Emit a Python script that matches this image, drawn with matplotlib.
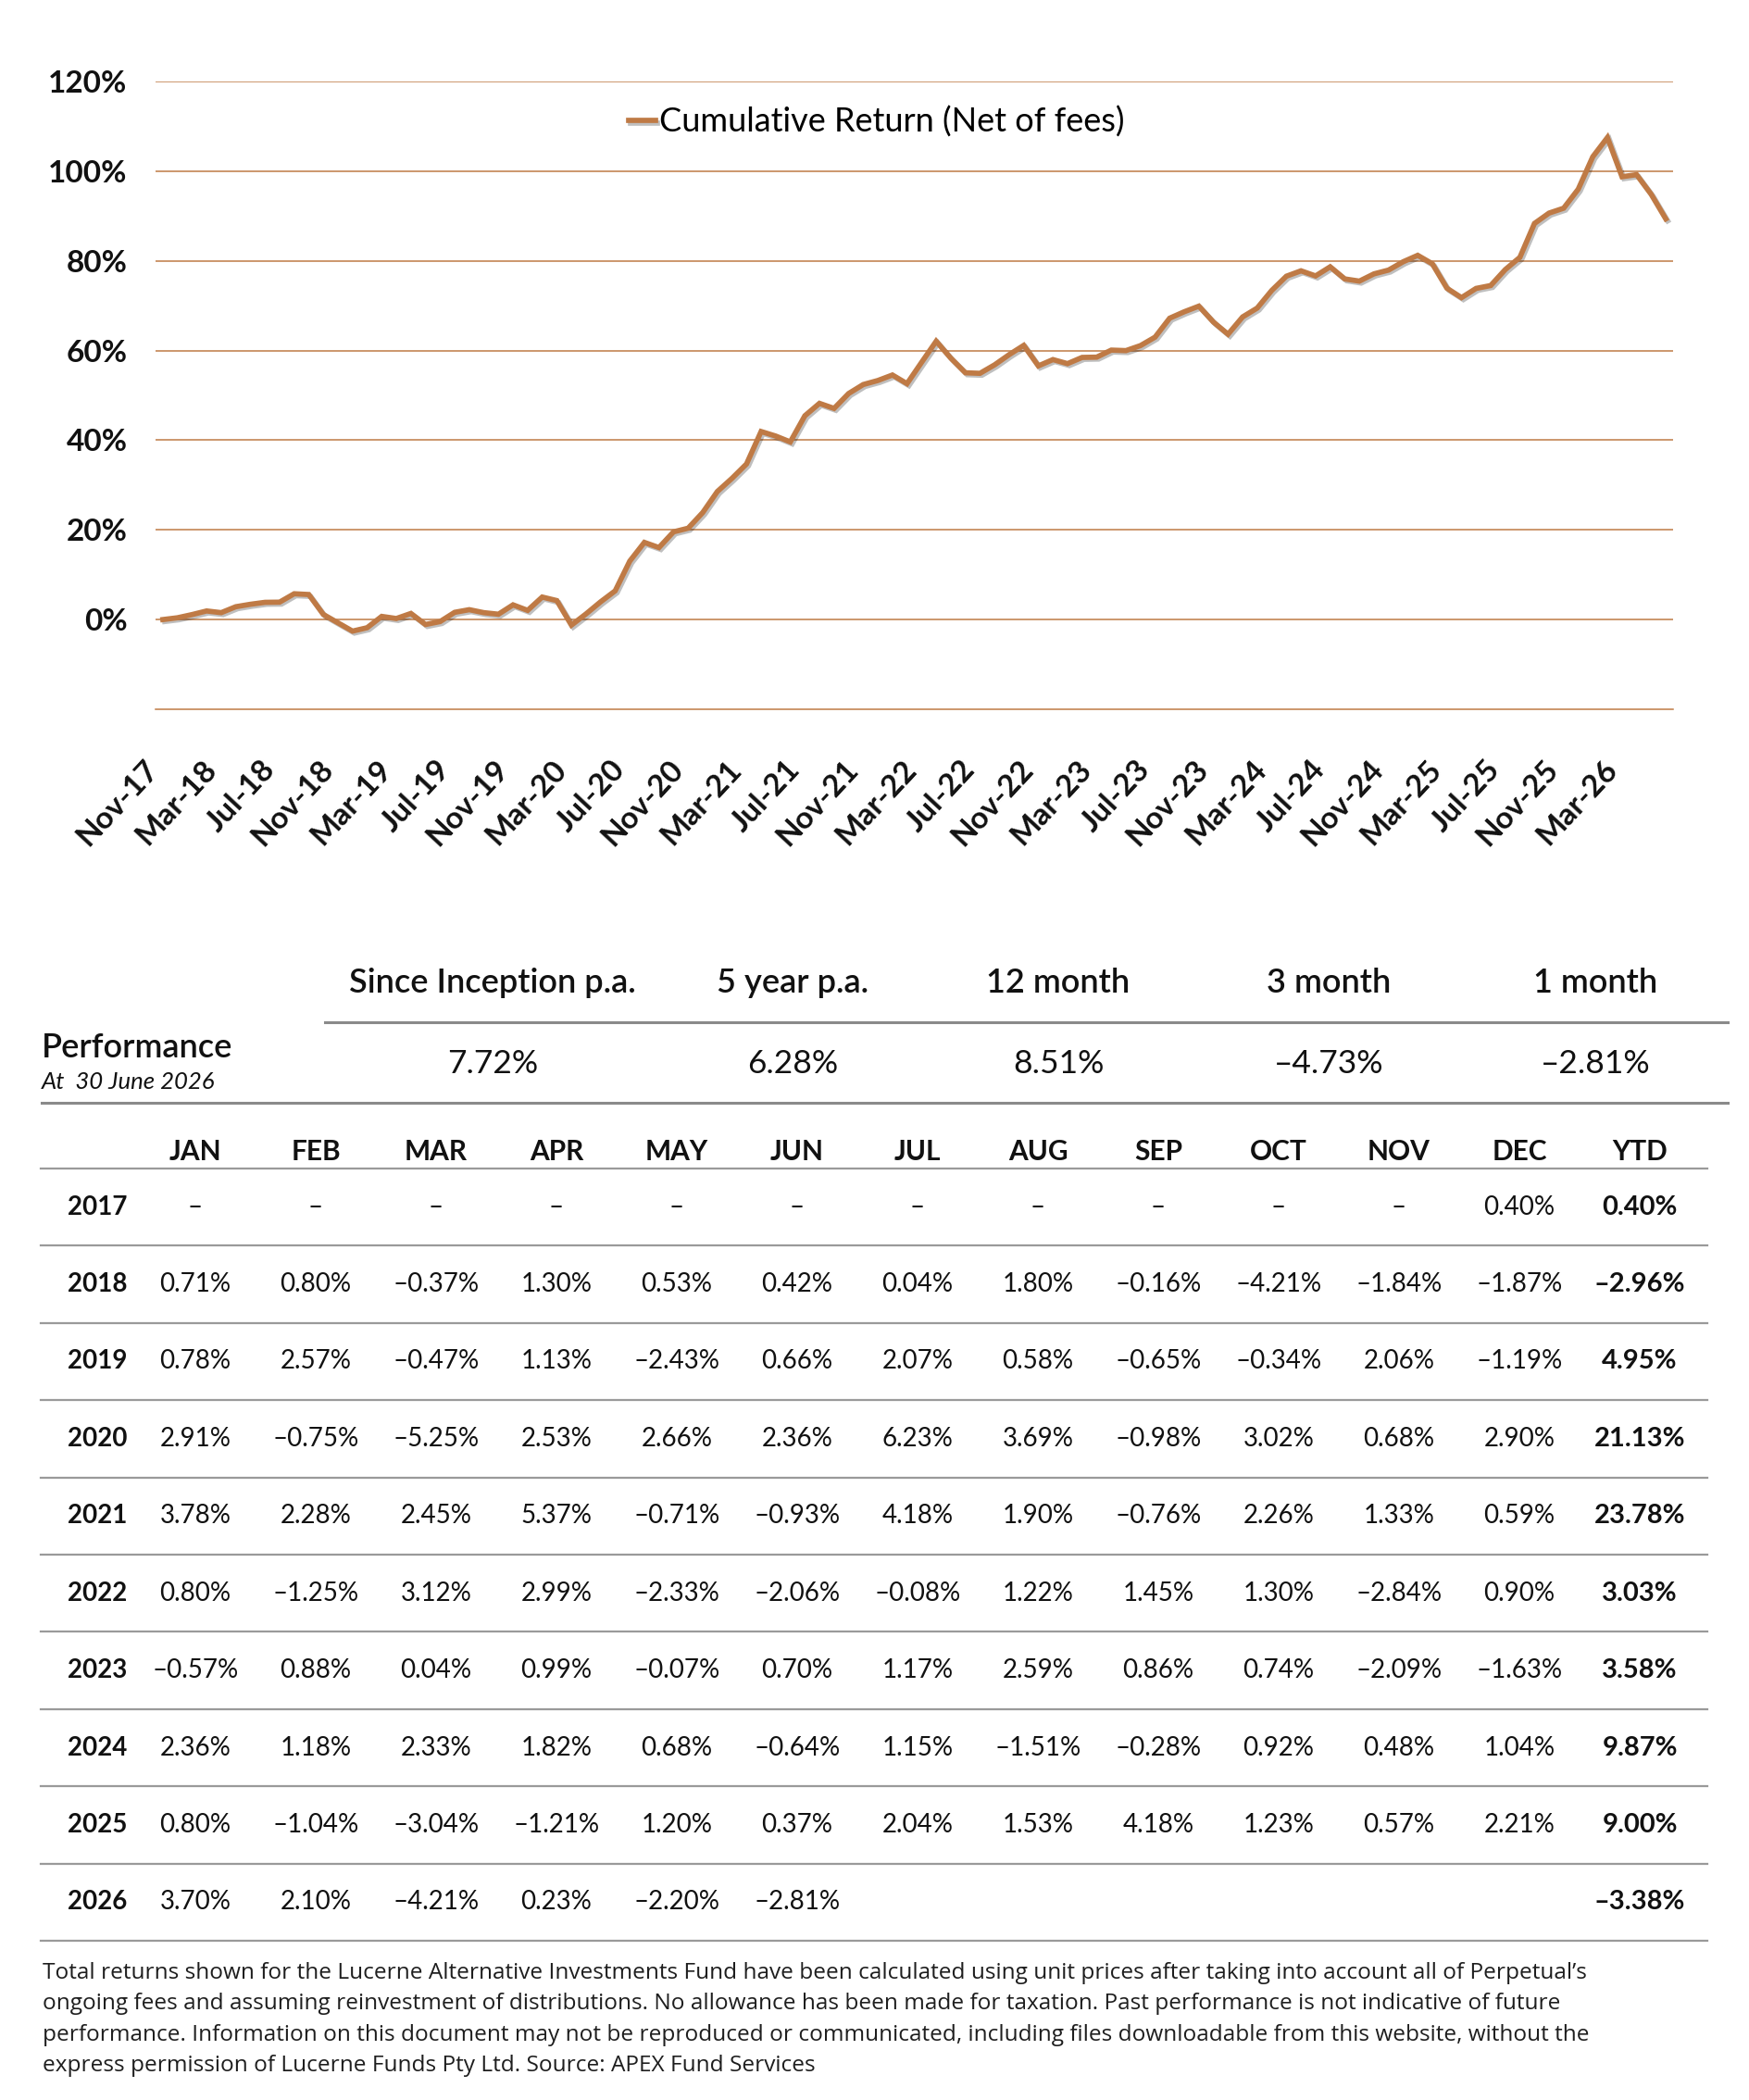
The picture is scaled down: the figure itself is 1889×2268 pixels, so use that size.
import numpy as np
import pandas as pd
import matplotlib
matplotlib.use('Agg')
import matplotlib.pyplot as plt
import matplotlib.patheffects as pe

plt.rcParams['font.family'] = ['Lato', 'DejaVu Sans']

# monthly returns (%) read from the table, None = no value
years = [2017, 2018, 2019, 2020, 2021, 2022, 2023, 2024, 2025, 2026]
month_names = ['JAN', 'FEB', 'MAR', 'APR', 'MAY', 'JUN',
               'JUL', 'AUG', 'SEP', 'OCT', 'NOV', 'DEC']
r2017 = [None] * 11 + [0.40]
r2018 = [0.71, 0.80, -0.37, 1.30, 0.53, 0.42, 0.04, 1.80, -0.16, -4.21, -1.84, -1.87]
r2019 = [0.78, 2.57, -0.47, 1.13, -2.43, 0.66, 2.07, 0.58, -0.65, -0.34, 2.06, -1.19]
r2020 = [2.91, -0.75, -5.25, 2.53, 2.66, 2.36, 6.23, 3.69, -0.98, 3.02, 0.68, 2.90]
r2021 = [3.78, 2.28, 2.45, 5.37, -0.71, -0.93, 4.18, 1.90, -0.76, 2.26, 1.33, 0.59]
r2022 = [0.80, -1.25, 3.12, 2.99, -2.33, -2.06, -0.08, 1.22, 1.45, 1.30, -2.84, 0.90]
r2023 = [-0.57, 0.88, 0.04, 0.99, -0.07, 0.70, 1.17, 2.59, 0.86, 0.74, -2.09, -1.63]
r2024 = [2.36, 1.18, 2.33, 1.82, 0.68, -0.64, 1.15, -1.51, -0.28, 0.92, 0.48, 1.04]
r2025 = [0.80, -1.04, -3.04, -1.21, 1.20, 0.37, 2.04, 1.53, 4.18, 1.23, 0.57, 2.21]
r2026 = [3.70, 2.10, -4.21, 0.23, -2.20, -2.81] + [None] * 6
rows = [r2017, r2018, r2019, r2020, r2021, r2022, r2023, r2024, r2025, r2026]
ytd = [0.40, -2.96, 4.95, 21.13, 23.78, 3.03, 3.58, 9.87, 9.00, -3.38]

perf_labels = ['Since Inception p.a.', '5 year p.a.', '12 month', '3 month', '1 month']
perf_values = [7.72, 6.28, 8.51, -4.73, -2.81]

footnote = [
    "Total returns shown for the Lucerne Alternative Investments Fund have been calculated using unit prices after taking into account all of Perpetual\u2019s",
    "ongoing fees and assuming reinvestment of distributions. No allowance has been made for taxation. Past performance is not indicative of future",
    "performance. Information on this document may not be reproduced or communicated, including files downloadable from this website, without the",
    "express permission of Lucerne Funds Pty Ltd. Source: APEX Fund Services",
]

# cumulative return line built from the monthly table, starting at 0 in Nov-17
rets = np.array([v for r in rows for v in r if v is not None]) / 100
cum = np.concatenate([[0.0], np.cumprod(1 + rets) - 1])
dates = pd.date_range('2017-11-01', periods=len(cum), freq='MS')
xlabels = dates.strftime('%b-%y')

brown = '#BF7A45'
ink = '#111111'
W, H = 1890, 2268

def box(l, t, r, b):
    return [l / W, 1 - b / H, (r - l) / W, (b - t) / H]

def fmt(v):
    return f'{v:.2f}%'.replace('-', '\u2013')

fig = plt.figure(figsize=(W / 100, H / 100), dpi=100)

# ---- chart
ax = fig.add_axes(box(168, 88, 1807, 766))
x = np.arange(len(cum))
ax.plot(x, cum, color=brown, lw=4.1, solid_joinstyle='miter',
        label='Cumulative Return (Net of fees)',
        path_effects=[pe.SimpleLineShadow(offset=(1.5, -1.5), alpha=0.25), pe.Normal()])
ax.set_xlim(-0.5, len(cum) - 0.5)
ax.set_ylim(-0.2, 1.2)
yt = np.arange(0, 1.21, 0.2)
ax.set_yticks(yt)
ax.set_yticklabels([f'{v*100:.0f}%' for v in yt], fontsize=24, fontweight='bold', color=ink)
ax.yaxis.grid(True, color=brown, lw=1.1)
ax.set_axisbelow(True)
ax.set_xticks(x[::4])
ax.set_xticklabels(xlabels[::4], rotation=47, ha='right', fontsize=24,
                   fontweight='bold', color=ink)
ax.tick_params(axis='y', length=0, pad=22)
ax.tick_params(axis='x', length=0, pad=36)
for s in ['top', 'right', 'left']:
    ax.spines[s].set_visible(False)
ax.spines['bottom'].set_color(brown)
ax.spines['bottom'].set_linewidth(1.1)
ax.legend(loc='center', bbox_to_anchor=(0.475, 0.935), frameon=False,
          handlelength=0.8, handletextpad=0.1, prop={'size': 26})

# ---- table
axt = fig.add_axes([0, 0, 1, 1])
axt.set_xlim(0, W)
axt.set_ylim(H, 0)
axt.axis('off')

perf_x = [532, 856, 1143, 1435, 1723]
for px, lab, val in zip(perf_x, perf_labels, perf_values):
    axt.text(px, 1062, lab, ha='center', va='center', fontsize=26, fontweight='semibold', color=ink)
    axt.text(px, 1149, fmt(val), ha='center', va='center', fontsize=25.5, color=ink)
axt.plot([351, 1866], [1104, 1104], color='#8a8a8a', lw=2.2)
axt.plot([45, 1866], [1191, 1191], color='#8a8a8a', lw=2.2)
axt.text(45, 1131, 'Performance', ha='left', va='center', fontsize=26,
         fontweight='semibold', color=ink)
axt.text(45, 1168, 'At  30 June 2026', ha='left', va='center', fontsize=18.5,
         fontstyle='italic', color=ink)

col_x = [211 + 130 * k for k in range(12)]
ytd_x = 1771
for cx, m in zip(col_x, month_names):
    axt.text(cx, 1244, m, ha='center', va='center', fontsize=21.5, fontweight='bold', color=ink)
axt.text(ytd_x, 1244, 'YTD', ha='center', va='center', fontsize=21.5, fontweight='bold', color=ink)
axt.plot([44, 1844], [1262, 1262], color='#9a9a9a', lw=1.6)

row_h = 83.4
for i, (yr, r, yv) in enumerate(zip(years, rows, ytd)):
    ry = 1262 + row_h * (i + 0.5)
    axt.text(137, ry, str(yr), ha='right', va='center', fontsize=20, fontweight='bold', color=ink)
    for cx, v in zip(col_x, r):
        if v is None:
            s = '\u2013' if yr == years[0] else ''
        else:
            s = fmt(v)
        axt.text(cx, ry, s, ha='center', va='center', fontsize=20, color=ink)
    axt.text(ytd_x, ry, fmt(yv), ha='center', va='center', fontsize=21, fontweight='bold', color=ink)
    axt.plot([44, 1844], [1262 + row_h * (i + 1)] * 2, color='#9a9a9a', lw=1.6)

for j, line in enumerate(footnote):
    axt.text(46, 2131 + 33.3 * j, line, ha='left', va='center', fontsize=17.6,
             family=['Open Sans', 'DejaVu Sans'], color='#1e1e1e')

fig.savefig('out.png', dpi=100)
